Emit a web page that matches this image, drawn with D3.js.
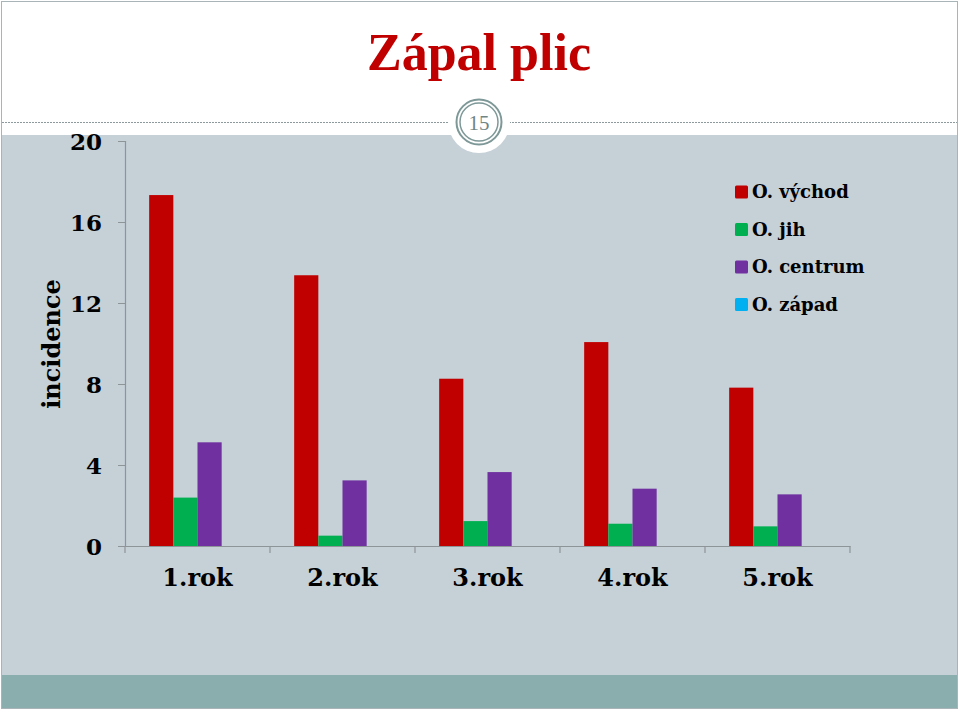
<!DOCTYPE html>
<html><head><meta charset="utf-8">
<script src="https://cdn.jsdelivr.net/npm/d3@7"></script>
<style>html,body{margin:0;padding:0;background:#fff;}svg{display:block;}</style>
</head><body>
<svg id="c" width="960" height="712"></svg>
<script>
const categories = ["1.rok", "2.rok", "3.rok", "4.rok", "5.rok"];
const seriesNames = ["O. východ", "O. jih", "O. centrum", "O. západ"];
const seriesColors = ["#C00000", "#00B050", "#7030A0", "#00B0F0"];
const vychod = [17.33, 13.37, 8.26, 10.07, 7.82];
const jih = [2.39, 0.51, 1.23, 1.10, 0.97];
const centrum = [5.12, 3.24, 3.65, 2.83, 2.55];
const zapad = [0, 0, 0, 0, 0];
const yTicks = [0, 4, 8, 12, 16, 20];
const title = "Zápal plic";
const yLabel = "incidence";
const slideNumber = "15";

(function () {
const seriesValues = [vychod, jih, centrum, zapad];
const svg = d3.select("#c");
const W = 960, H = 712;

// slide background
svg.append("rect").attr("x", 0).attr("y", 0).attr("width", W).attr("height", H).attr("fill", "#fff");
svg.append("rect").attr("x", 2).attr("y", 135).attr("width", 955).attr("height", 540).attr("fill", "#C5D0D7");
svg.append("rect").attr("x", 2).attr("y", 675).attr("width", 955).attr("height", 33).attr("fill", "#8AADAD");
svg.append("rect").attr("x", 1.5).attr("y", 1.5).attr("width", 956).attr("height", 707)
  .attr("fill", "none").attr("stroke", "#A9B4B8").attr("stroke-width", 1);
// dashed line
svg.append("line").attr("x1", 2).attr("x2", 957).attr("y1", 122.5).attr("y2", 122.5)
  .attr("stroke", "#8C9A9E").attr("stroke-width", 1).attr("stroke-dasharray", "2,1");
// slide number circle
svg.append("circle").attr("cx", 479).attr("cy", 122).attr("r", 31).attr("fill", "#fff");
svg.append("circle").attr("cx", 479).attr("cy", 122).attr("r", 22.5).attr("fill", "none").attr("stroke", "#7E9898").attr("stroke-width", 2);
svg.append("circle").attr("cx", 479).attr("cy", 122).attr("r", 19).attr("fill", "none").attr("stroke", "#7E9898").attr("stroke-width", 1.5);
svg.append("text").attr("x", 479).attr("y", 130).attr("text-anchor", "middle")
  .attr("font-family", "Liberation Serif, serif").attr("font-size", 21).attr("fill", "#6F8585").text(slideNumber);

// title
svg.append("text").attr("x", 479).attr("y", 70).attr("text-anchor", "middle")
  .attr("font-family", "Liberation Serif, serif").attr("font-weight", "bold").attr("font-size", 52)
  .attr("fill", "#C00000").text(title);

// chart
const mLeft = 125, mRight = 850, mTop = 141, mBottom = 546;
const x = d3.scaleBand().domain(categories).range([mLeft, mRight]).paddingInner(0).paddingOuter(0);
const y = d3.scaleLinear().domain([0, 20]).range([mBottom, mTop]);
const barW = x.bandwidth() / 6;
const xSub = d3.scaleBand().domain(seriesNames).range([barW, x.bandwidth() - barW]).padding(0);

// axes
const yAxis = d3.axisLeft(y).tickValues(yTicks).tickSize(7).tickFormat(d3.format("d"));
const gy = svg.append("g").attr("transform", `translate(${mLeft},0)`).call(yAxis);
gy.select(".domain").attr("stroke", "#8E9598").attr("stroke-width", 1.2);
gy.selectAll(".tick line").attr("stroke", "#8E9598");
gy.selectAll(".tick text").attr("x", -23).attr("dy", "0.36em")
  .attr("font-family", "DejaVu Serif, serif").attr("font-weight", "bold").attr("font-size", 23).attr("fill", "#000");

// bars
const g = svg.append("g");
categories.forEach((c, i) => {
  seriesNames.forEach((s, j) => {
    const v = seriesValues[j][i];
    if (v <= 0) return;
    g.append("rect")
      .attr("x", x(c) + xSub(s))
      .attr("y", y(v))
      .attr("width", xSub.bandwidth())
      .attr("height", y(0) - y(v))
      .attr("fill", seriesColors[j]);
  });
});

const xAxis = d3.axisBottom(x).tickSize(0).tickPadding(0);
const gx = svg.append("g").attr("transform", `translate(0,${mBottom})`).call(xAxis);
gx.select(".domain").attr("stroke", "#8E9598").attr("stroke-width", 1.2);
gx.selectAll(".tick text").attr("y", 23)
  .attr("font-family", "DejaVu Serif, serif").attr("font-weight", "bold").attr("font-size", 24).attr("fill", "#000");
// category boundary ticks
const bounds = categories.map(c => x(c)).concat([x(categories[categories.length - 1]) + x.bandwidth()]);
svg.append("g").selectAll("line").data(bounds).join("line")
  .attr("x1", d => d).attr("x2", d => d).attr("y1", mBottom).attr("y2", mBottom + 7)
  .attr("stroke", "#8E9598").attr("stroke-width", 1.2);

// y label
svg.append("text").attr("transform", "translate(60,344) rotate(-90)").attr("text-anchor", "middle")
  .attr("font-family", "DejaVu Serif, serif").attr("font-weight", "bold").attr("font-size", 24).attr("fill", "#000")
  .text(yLabel);

// legend
const lg = svg.append("g").attr("transform", "translate(735,192)");
seriesNames.forEach((s, j) => {
  const row = lg.append("g").attr("transform", `translate(0,${j * 37.5})`);
  row.append("rect").attr("x", 0).attr("y", -6.5).attr("width", 13).attr("height", 13).attr("rx", 1.5).attr("fill", seriesColors[j]);
  row.append("text").attr("x", 17).attr("y", 0).attr("dy", "0.36em")
    .attr("font-family", "DejaVu Serif, serif").attr("font-weight", "bold").attr("font-size", 18).attr("fill", "#000").text(s);
});
})();
</script>
</body></html>
